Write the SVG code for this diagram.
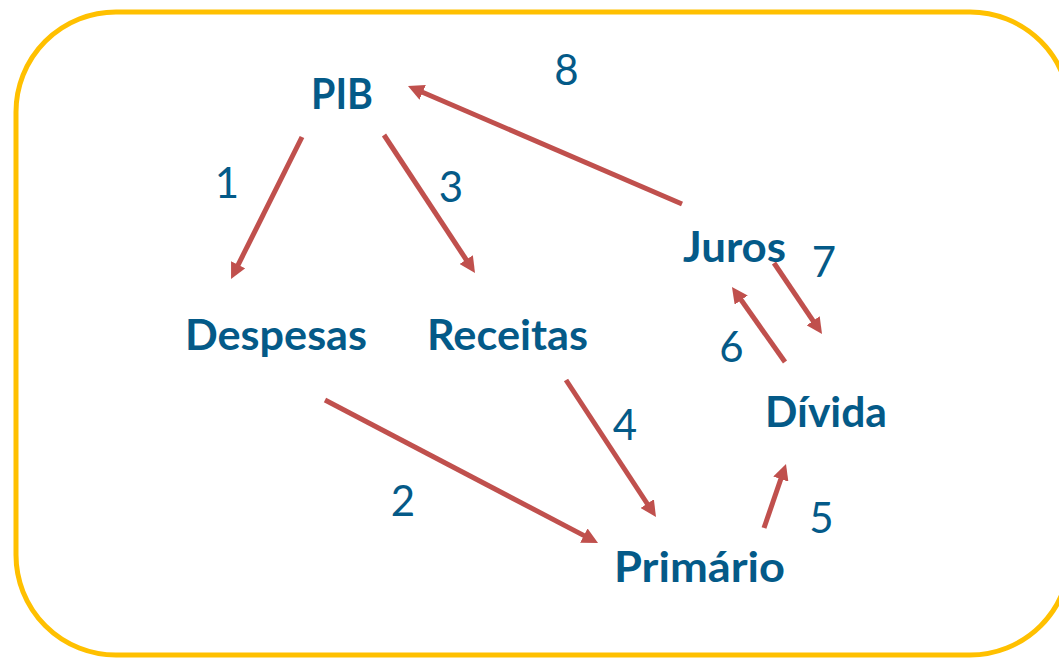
<svg xmlns="http://www.w3.org/2000/svg" width="1059" height="658" viewBox="0 0 1059 658">
<style>
.lbl{font-family:Lato,"Open Sans","Liberation Sans",sans-serif;font-weight:700;font-size:42px;fill:#045A88}
.num{font-family:Lato,"Open Sans","Liberation Sans",sans-serif;font-weight:400;font-size:42px;fill:#045A88;text-anchor:middle}
.arr{stroke:#C0504D;stroke-width:5;fill:none;marker-end:url(#ah)}
</style>
<defs>
<marker id="ah" markerUnits="userSpaceOnUse" markerWidth="16" markerHeight="16" refX="4" refY="8" orient="auto">
<path d="M0,0 L16,8 L0,16 z" fill="#C0504D"/>
</marker>
</defs>
<rect x="0" y="0" width="1059" height="658" fill="#ffffff"/>
<rect id="frame" x="16" y="12" width="1054" height="643" rx="100" ry="100" fill="none" stroke="#FFC000" stroke-width="5"/>
<g id="connectors">
<line class="arr" x1="302" y1="137" x2="236.4" y2="268.3"/>
<line class="arr" x1="384" y1="135" x2="468.4" y2="263"/>
<line class="arr" x1="682" y1="204" x2="419" y2="90.7"/>
<line class="arr" x1="325" y1="400" x2="587.4" y2="537.4"/>
<line class="arr" x1="566" y1="380" x2="649.4" y2="507"/>
<line class="arr" x1="764" y1="528" x2="782.1" y2="475.3"/>
<line class="arr" x1="785" y1="362" x2="738.9" y2="296.8"/>
<line class="arr" x1="774" y1="263" x2="815.3" y2="324.1"/>
</g>
<g id="labels">
<text class="num" x="566.5" y="85">8</text>
<text class="num" x="227" y="198">1</text>
<text class="num" x="451" y="202">3</text>
<text class="num" x="824" y="277">7</text>
<text class="num" x="731.5" y="362">6</text>
<text class="num" x="625" y="440">4</text>
<text class="num" x="403" y="516">2</text>
<text class="num" x="821.5" y="533">5</text>
</g>
<g id="node-pib"><text class="lbl" x="311" y="109" textLength="62" lengthAdjust="spacingAndGlyphs">PIB</text></g>
<g id="node-despesas"><text class="lbl" x="185" y="350" textLength="182" lengthAdjust="spacingAndGlyphs">Despesas</text></g>
<g id="node-receitas"><text class="lbl" x="427" y="350" textLength="161" lengthAdjust="spacingAndGlyphs">Receitas</text></g>
<g id="node-juros"><text class="lbl" x="683" y="262" textLength="103" lengthAdjust="spacingAndGlyphs">Juros</text></g>
<g id="node-divida"><text class="lbl" x="765" y="427" textLength="122" lengthAdjust="spacingAndGlyphs">Dívida</text></g>
<g id="node-primario"><text class="lbl" x="614" y="582" textLength="171" lengthAdjust="spacingAndGlyphs">Primário</text></g>
</svg>
